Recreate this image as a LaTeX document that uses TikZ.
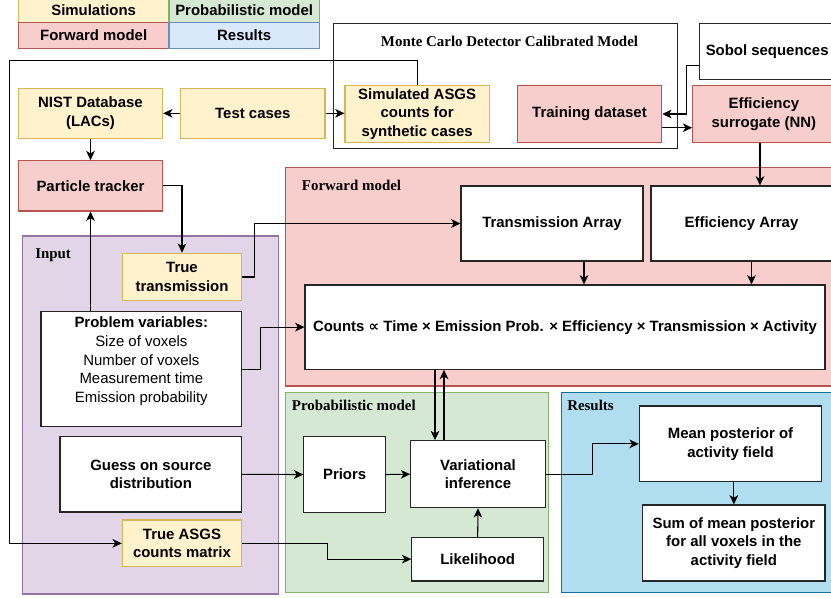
\documentclass[tikz,border=0pt]{standalone}
\usepackage{fontspec}
\setmainfont{Liberation Sans}
\newfontfamily\lserif{Liberation Serif}
\newfontfamily\ldejavu{DejaVu Sans}
\usetikzlibrary{arrows.meta}
\definecolor{yfill}{HTML}{FFF2CC}\definecolor{ydraw}{HTML}{D6B656}
\definecolor{gfill}{HTML}{D5E8D4}\definecolor{gdraw}{HTML}{82B366}
\definecolor{rfill}{HTML}{F8CECC}\definecolor{rdraw}{HTML}{B85450}
\definecolor{bfill}{HTML}{DAE8FC}\definecolor{bdraw}{HTML}{6C8EBF}
\definecolor{pfill}{HTML}{E1D5E7}\definecolor{pdraw}{HTML}{9673A6}
\definecolor{cfill}{HTML}{B1DDF0}\definecolor{cdraw}{HTML}{10739E}
\newcommand\mybox[7]{\node[#6, minimum width={(#4-#2)*0.75pt}, minimum height={(#5-#3)*0.75pt}] (#1) at ({(#2+#4)/2},{(#3+#5)/2}) {#7};}
\begin{document}
\begin{tikzpicture}[x=0.75pt,y=-0.75pt,
  box/.style={draw=black!85, line width=0.8pt, fill=white, font=\fontsize{11.2}{14}\selectfont\bfseries, align=center, inner sep=0pt},
  ybox/.style={box, fill=yfill, draw=ydraw},
  rbox/.style={box, fill=rfill, draw=rdraw},
  gbox/.style={box, fill=gfill, draw=gdraw},
  bbox/.style={box, fill=bfill, draw=bdraw},
  cont/.style={draw, line width=0.8pt, inner sep=0pt},
  lab/.style={font=\lserif\fontsize{11.2}{13}\selectfont\bfseries, anchor=west, inner sep=0pt},
  conn/.style={line width=0.8pt, -{Stealth[length=7pt,width=6.5pt,inset=2pt]}},
  plain/.style={line width=0.8pt}]
\useasboundingbox (0,0) rectangle (831,598);
% legend
\mybox{lsim}{18.3}{-3}{169}{22.7}{ybox}{Simulations}
\mybox{lfwd}{18.3}{22.7}{169}{48.3}{rbox}{Forward model}
\mybox{lprob}{169}{-3}{319.3}{22.7}{gbox}{Probabilistic model}
\mybox{lres}{169}{22.7}{319.3}{48.3}{bbox}{Results}
% containers
\mybox{mc}{333.3}{23.3}{677.7}{148.3}{cont, draw=black!85}{}
\mybox{input}{22.3}{236}{278.3}{594}{cont, fill=pfill, draw=pdraw}{}
\mybox{fwd}{285.3}{167.3}{845}{386}{cont, fill=rfill, draw=rdraw}{}
\mybox{prob}{285.3}{392.5}{548.8}{592.7}{cont, fill=gfill, draw=gdraw}{}
\mybox{res}{561.7}{392.5}{845}{592.7}{cont, fill=cfill, draw=cdraw}{}
\node[lab, anchor=center] (mclab) at (509.5,41.7) {Monte Carlo Detector Calibrated Model};
\node[lab] (fwdlab) at (301.7,185) {Forward model};
\node[lab] (inlab) at (35,255) {Input};
\node[lab] (problab) at (291.7,405) {Probabilistic model};
\node[lab] (reslab) at (567,405) {Results};
% boxes
\mybox{nist}{18.3}{88.3}{162.7}{138.3}{ybox}{NIST Database\\(LACs)}
\mybox{test}{180.7}{88.3}{325}{138.3}{ybox}{Test cases}
\mybox{sim}{345}{85.7}{489.3}{142.3}{ybox}{Simulated ASGS\\counts for\\synthetic cases}
\mybox{train}{517.3}{85.7}{661.7}{142.3}{rbox}{Training dataset}
\mybox{sobol}{699.3}{23.3}{835}{79.3}{box}{Sobol sequences}
\mybox{effs}{692.7}{85.7}{835}{142.3}{rbox}{Efficiency\\surrogate (NN)}
\mybox{pt}{18.3}{160.7}{162.7}{211}{rbox}{Particle tracker}
\mybox{tt}{122.3}{253.3}{241.7}{300.7}{ybox}{True\\transmission}
\mybox{pv}{41}{311.7}{241.7}{426.7}{box}{Problem variables:\\\mdseries Size of voxels\\\mdseries Number of voxels\\\mdseries Measurement time\\\mdseries Emission probability\\\mbox{}}
\mybox{guess}{60}{436.7}{241.7}{512}{box}{Guess on source\\distribution}
\mybox{asgs}{122.3}{520}{241.7}{566.7}{ybox}{True ASGS\\counts matrix}
\mybox{ta}{461}{186}{643}{261}{box}{Transmission Array}
\mybox{effa}{651}{186}{832}{261}{box}{Efficiency Array}
\mybox{counts}{305}{285}{825}{369.3}{box}{Counts {\ldejavu\bfseries ∝} Time × Emission Prob. × Efficiency × Transmission × Activity}
\mybox{priors}{303.9}{436.7}{385.4}{512.3}{box}{Priors}
\mybox{vi}{410.7}{440.7}{545.3}{507.7}{box}{Variational\\inference}
\mybox{lik}{411.8}{537.3}{543.5}{581}{box}{Likelihood}
\mybox{mean}{639.3}{406}{821.7}{481.7}{box}{Mean posterior of\\activity field}
\mybox{sum}{642.7}{505}{825}{581}{box}{Sum of mean posterior\\for all voxels in the\\activity field}
% connectors
\coordinate (loopc) at (9.3,60.7);
\draw[conn] (sim.north) |- (loopc) |- (asgs.west);
\draw[conn] (test.west) -- (nist.east);
\draw[conn] (test.east) -- (test.east -| sim.west);
\draw[conn] ([yshift=-10.5pt]sobol.west) -- ++(-12.6,0) |- (train.east);
\draw[conn] ([yshift=-10.3pt]train.east) -- ([yshift=-10.3pt]train.east -| effs.west);
\draw[conn] ([xshift=-2.9pt]effs.south) -- ([xshift=-2.9pt]effs.south |- effa.north);
\draw[conn] (nist.south) -- (pt.north);
\draw[conn] (pt.east) -| (tt.north);
\draw[conn] (tt.east) -- ++(12.3,0) |- (ta.west);
\draw[conn] (pt.south |- pv.north) -- (pt.south);
\draw[conn] (pv.east) -- ++(18.3,0) |- (counts.west);
\draw[conn] (guess.east) -- (priors.west);
\draw[conn] (asgs.east) -- ++(85,0) |- (lik.west);
\draw[conn] (priors.east) -- (vi.west);
\draw[conn] ([xshift=-32.25pt]vi.north |- counts.south) -- ([xshift=-32.25pt]vi.north);
\draw[conn] ([xshift=-25.5pt]vi.north) -- ([xshift=-25.5pt]vi.north |- counts.south);
\draw[conn] (lik.north) -- (vi.south);
\draw[conn] (vi.east) -- ++(47,0) |- (mean.west);
\draw[conn] (sum.north |- mean.south) -- (sum.north);
\draw[conn] ([xshift=24pt]ta.south) -- ([xshift=24pt]ta.south |- counts.north);
\draw[conn] ([xshift=7.5pt]effa.south) -- ([xshift=7.5pt]effa.south |- counts.north);
\end{tikzpicture}
\end{document}
